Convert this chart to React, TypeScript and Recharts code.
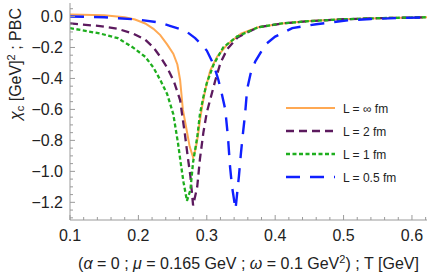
import React from 'react';
import { LineChart, Line, XAxis, YAxis, Legend } from 'recharts';

// L = ∞ fm
const tInf = [0.1, 0.15, 0.18, 0.195, 0.21, 0.222, 0.232, 0.242, 0.251, 0.257, 0.261, 0.265, 0.27, 0.275, 0.28, 0.284, 0.287, 0.29, 0.294, 0.298, 0.305, 0.315, 0.33, 0.35, 0.375, 0.41, 0.45, 0.5, 0.55, 0.622];
const vInf = [0.013, 0.008, -0.005, -0.02, -0.045, -0.08, -0.12, -0.18, -0.24, -0.31, -0.41, -0.6, -0.72, -0.84, -0.91, -0.85, -0.77, -0.67, -0.56, -0.47, -0.35, -0.26, -0.18, -0.11, -0.07, -0.045, -0.03, -0.018, -0.011, -0.005];
// L = 2 fm
const t2 = [0.1, 0.144, 0.17, 0.192, 0.21, 0.222, 0.232, 0.242, 0.252, 0.261, 0.268, 0.272, 0.276, 0.28, 0.286, 0.29, 0.295, 0.3, 0.306, 0.312, 0.32, 0.33, 0.345, 0.375, 0.41, 0.45, 0.5, 0.55, 0.622];
const v2 = [-0.045, -0.062, -0.08, -0.11, -0.15, -0.2, -0.26, -0.33, -0.42, -0.54, -0.76, -0.9, -1.03, -1.22, -1.1, -0.92, -0.75, -0.62, -0.52, -0.42, -0.3, -0.21, -0.135, -0.07, -0.045, -0.03, -0.018, -0.011, -0.005];
// L = 1 fm
const t1 = [0.1, 0.144, 0.17, 0.192, 0.21, 0.222, 0.232, 0.242, 0.251, 0.258, 0.262, 0.266, 0.271, 0.276, 0.28, 0.286, 0.29, 0.295, 0.3, 0.31, 0.324, 0.344, 0.375, 0.41, 0.45, 0.5, 0.55, 0.622];
const v1 = [-0.075, -0.11, -0.14, -0.2, -0.26, -0.33, -0.41, -0.5, -0.63, -0.82, -0.95, -1.07, -1.19, -1.12, -0.94, -0.78, -0.63, -0.52, -0.43, -0.31, -0.2, -0.13, -0.07, -0.045, -0.03, -0.018, -0.011, -0.005];
// L = 0.5 fm
const tHalf = [0.1, 0.15, 0.2, 0.232, 0.246, 0.26, 0.271, 0.283, 0.292, 0.3, 0.31, 0.317, 0.322, 0.327, 0.331, 0.334, 0.337, 0.342, 0.344, 0.347, 0.35, 0.353, 0.356, 0.359, 0.364, 0.371, 0.386, 0.4, 0.425, 0.46, 0.506, 0.54, 0.58, 0.622];
const vHalf = [0.0, -0.005, -0.02, -0.04, -0.06, -0.08, -0.1, -0.14, -0.18, -0.22, -0.31, -0.41, -0.5, -0.6, -0.78, -0.97, -1.1, -1.245, -1.16, -1.03, -0.88, -0.75, -0.63, -0.47, -0.37, -0.29, -0.18, -0.13, -0.075, -0.05, -0.025, -0.016, -0.01, -0.006];

const xMajor = [0.1, 0.2, 0.3, 0.4, 0.5, 0.6];
const yMajor = [0, -0.2, -0.4, -0.6, -0.8, -1.0, -1.2];

const xTicks: number[] = [];
for (let i = 0; i <= 26; i++) xTicks.push(Math.round((0.1 + i * 0.02) * 1000) / 1000);
const yTicks: number[] = [];
for (let i = 0; i <= 27; i++) yTicks.push(Math.round((0.05 - i * 0.05) * 1000) / 1000);

const mk = (t: number[], v: number[]) => t.map((x, i) => ({ x, y: v[i] }));

const series = [
  { name: 'L = ∞ fm', data: mk(tInf, vInf), color: '#FFA953', dash: undefined as string | undefined, width: 2 },
  { name: 'L = 2 fm', data: mk(t2, v2), color: '#5C1A5E', dash: '8 5', width: 2.3 },
  { name: 'L = 1 fm', data: mk(t1, v1), color: '#1EAE1E', dash: '4 2.5', width: 2.3 },
  { name: 'L = 0.5 fm', data: mk(tHalf, vHalf), color: '#1020FF', dash: '14 10', width: 2.4 },
];

const FONT = '"Liberation Sans", Arial, sans-serif';
const AX = '#9a9a9a';
const TXT = '#222';

const isMajorX = (v: number) => xMajor.some((m) => Math.abs(m - v) < 1e-6);
const isMajorY = (v: number) => yMajor.some((m) => Math.abs(m - v) < 1e-6);
const fmtY = (v: number) => (Math.abs(v) < 1e-9 ? '0.0' : (v < 0 ? '\u2212' : '') + Math.abs(v).toFixed(1));

const BottomTick = (p: any) => {
  const v = p.payload.value;
  const maj = isMajorX(v);
  return (
    <g>
      <line x1={p.x} x2={p.x} y1={p.y} y2={p.y - (maj ? 5 : 3)} stroke={AX} strokeWidth={1} />
      {maj && (
        <text x={p.x} y={p.y + 21} textAnchor="middle" fontSize={16} fontFamily={FONT} fill={TXT}>
          {v.toFixed(1)}
        </text>
      )}
    </g>
  );
};
const TopTick = (p: any) => {
  const maj = isMajorX(p.payload.value);
  return <line x1={p.x} x2={p.x} y1={p.y} y2={p.y + (maj ? 5 : 3)} stroke={AX} strokeWidth={1} />;
};
const LeftTick = (p: any) => {
  const v = p.payload.value;
  const maj = isMajorY(v);
  return (
    <g>
      <line x1={p.x} x2={p.x + (maj ? 5 : 3)} y1={p.y} y2={p.y} stroke={AX} strokeWidth={1} />
      {maj && (
        <text x={p.x - 7} y={p.y + 5.5} textAnchor="end" fontSize={16} fontFamily={FONT} fill={TXT}>
          {fmtY(v)}
        </text>
      )}
    </g>
  );
};
const RightTick = (p: any) => {
  const maj = isMajorY(p.payload.value);
  return <line x1={p.x} x2={p.x - (maj ? 5 : 3)} y1={p.y} y2={p.y} stroke={AX} strokeWidth={1} />;
};

const XTitle = (p: any) => {
  const vb = p.viewBox;
  const cx = vb.x + vb.width / 2;
  return (
    <text x={cx} y={269} textAnchor="middle" fontSize={16} fontFamily={FONT} fill={TXT}>
      <tspan>(</tspan>
      <tspan fontStyle="italic">α</tspan>
      <tspan> = 0 ; </tspan>
      <tspan fontStyle="italic">μ</tspan>
      <tspan> = 0.165 GeV ; </tspan>
      <tspan fontStyle="italic">ω</tspan>
      <tspan> = 0.1 GeV</tspan>
      <tspan dy={-6} fontSize={11}>2</tspan>
      <tspan dy={6}>) ; T [GeV]</tspan>
    </text>
  );
};
const YTitle = () => {
  const x = 21;
  const y = 64;
  return (
    <text x={x} y={y} transform={`rotate(-90, ${x}, ${y})`} textAnchor="middle" fontSize={16} fontFamily={FONT} fill={TXT}>
      <tspan fontStyle="italic">χ</tspan>
      <tspan dy={3} fontSize={11}>c</tspan>
      <tspan dy={-3}> [GeV]</tspan>
      <tspan dy={-6} fontSize={11}>2</tspan>
      <tspan dy={6}> ; PBC</tspan>
    </text>
  );
};

const LegendBox = () => (
  <svg width={150} height={96} style={{ display: 'block' }}>
    {series.map((s, i) => {
      const y = 12 + i * 23;
      return (
        <g key={s.name}>
          <line x1={6} x2={55} y1={y} y2={y} stroke={s.color} strokeWidth={s.width} strokeDasharray={s.dash} />
          <text x={63} y={y + 4.5} fontSize={12} fontFamily={FONT} fill={TXT}>
            {s.name}
          </text>
        </g>
      );
    })}
  </svg>
);

export default function App() {
  return (
    <div style={{ position: 'absolute', left: 0, top: 0, background: '#fff' }}>
      <LineChart width={436} height={275} margin={{ top: 3, right: 9, bottom: 0, left: 0 }}>
        <XAxis
          dataKey="x"
          type="number"
          domain={[0.1, 0.622]}
          ticks={xTicks}
          interval={0}
          allowDataOverflow
          height={55}
          tickSize={0}
          tickMargin={0}
          tickLine={false}
          tick={<BottomTick />}
          stroke={AX}
          label={<XTitle />}
        />
        <XAxis
          xAxisId="top"
          orientation="top"
          dataKey="x"
          type="number"
          domain={[0.1, 0.622]}
          ticks={xTicks}
          interval={0}
          allowDataOverflow
          height={0}
          tickSize={0}
          tickMargin={0}
          tickLine={false}
          tick={<TopTick />}
          stroke={AX}
        />
        <YAxis
          type="number"
          domain={[-1.314, 0.087]}
          ticks={yTicks}
          interval={0}
          allowDataOverflow
          width={70}
          tickSize={0}
          tickMargin={0}
          tickLine={false}
          tick={<LeftTick />}
          stroke={AX}
          label={<YTitle />}
        />
        <YAxis
          yAxisId="right"
          orientation="right"
          type="number"
          domain={[-1.314, 0.087]}
          ticks={yTicks}
          interval={0}
          allowDataOverflow
          width={0}
          tickSize={0}
          tickMargin={0}
          tickLine={false}
          tick={<RightTick />}
          stroke={AX}
        />
        {series.map((s) => (
          <Line
            key={s.name}
            data={s.data}
            dataKey="y"
            name={s.name}
            type="linear"
            stroke={s.color}
            strokeWidth={s.width}
            strokeDasharray={s.dash}
            dot={false}
            activeDot={false}
            isAnimationActive={false}
          />
        ))}
        <Legend
          layout="vertical"
          align="center"
          verticalAlign="middle"
          content={<LegendBox />}
          wrapperStyle={{ position: 'absolute', left: 280, top: 96, width: 150, height: 96 }}
        />
      </LineChart>
    </div>
  );
}
